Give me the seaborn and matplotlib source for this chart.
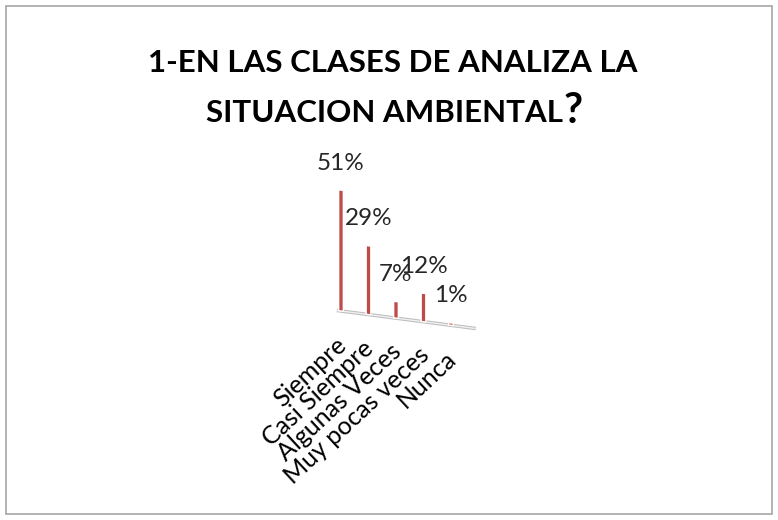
import numpy as np
import pandas as pd
import matplotlib
matplotlib.use("Agg")
import matplotlib.pyplot as plt
import seaborn as sns
from matplotlib.transforms import Affine2D
from matplotlib.patches import Rectangle

categories = ["Siempre", "Casi Siempre", "Algunas Veces", "Muy pocas veces", "Nunca"]
values = [51, 29, 7, 12, 1]
value_labels = ["51%", "29%", "7%", "12%", "1%"]
title_line1 = "1-EN LAS CLASES DE ANALIZA LA"
title_line2 = "SITUACION AMBIENTAL"

sns.set_theme(style="white")
plt.rcParams['font.family'] = ['Lato', 'DejaVu Sans']

W, H = 778, 520
fig = plt.figure(figsize=(W / 100, H / 100), dpi=100)
fig.patch.set_facecolor("white")

# outer border
fig.add_artist(Rectangle((6 / W, 6 / H), (W - 12) / W, (H - 12) / H, transform=fig.transFigure,
                         fill=False, edgecolor="#A6A6A6", linewidth=1.2))

# axes placement (pixels, top-origin)
unit_x = 27.5
x0_px = 341
base_px = 311
unit_y = 2.37
ymax = 60
left = (x0_px - 0.5 * unit_x) / W
width = 5 * unit_x / W
bottom = (H - base_px) / H
height = ymax * unit_y / H
ax = fig.add_axes([left, bottom, width, height])
ax.set_xlim(-0.5, 4.5)
ax.set_ylim(0, ymax)
ax.axis("off")

df = pd.DataFrame({"cat": categories, "val": values})
sns.barplot(data=df, x="cat", y="val", color="#BE4B48", saturation=1, width=0.17, ax=ax)
ax.set_xlim(-0.5, 4.5)
ax.set_ylim(0, ymax)

# skew in display space so the floor slopes down to the right
px0 = ax.transData.transform((0, 0))[0]
slope = 0.13
skew = Affine2D().translate(-px0, 0).skew(0, np.arctan(-slope)).translate(px0, 0)
tr = ax.transData + skew

for p in ax.patches:
    p.set_transform(tr)
    p.set_clip_on(False)
    p.set_zorder(3)

# floor
ax.plot([-0.15, 4.9], [0, 0], color="#BDBDBD", lw=2.5, transform=tr, clip_on=False, zorder=1,
        solid_capstyle="butt")
ax.plot([-0.15, 4.9], [0, 0], color="#F0F0F0", lw=1.0, transform=tr, clip_on=False, zorder=2,
        solid_capstyle="butt")

# value labels
for i, (v, lab) in enumerate(zip(values, value_labels)):
    ax.text(i, v + 11.4, lab, transform=tr, ha="center", va="center", fontsize=17.5,
            color="#262626", clip_on=False, zorder=4)

# category labels
for i, c in enumerate(categories):
    ax.text(i - 0.22, -9.5, c, transform=tr, ha="right", va="top", rotation=43,
            rotation_mode="anchor", fontsize=18, color="#000000", clip_on=False)

# title
fig.text(393 / W, 1 - 63 / H, title_line1, ha="center", va="center", fontsize=22.5,
         fontweight="bold", color="#000000")
fig.text(563 / W, 1 - 113 / H, title_line2, ha="right", va="center", fontsize=22.5,
         fontweight="bold", color="#000000")
fig.text(564 / W, 1 - 111 / H, "?", ha="left", va="center", fontsize=30,
         fontweight="bold", color="#000000")

fig.savefig("out.png", dpi=100)
